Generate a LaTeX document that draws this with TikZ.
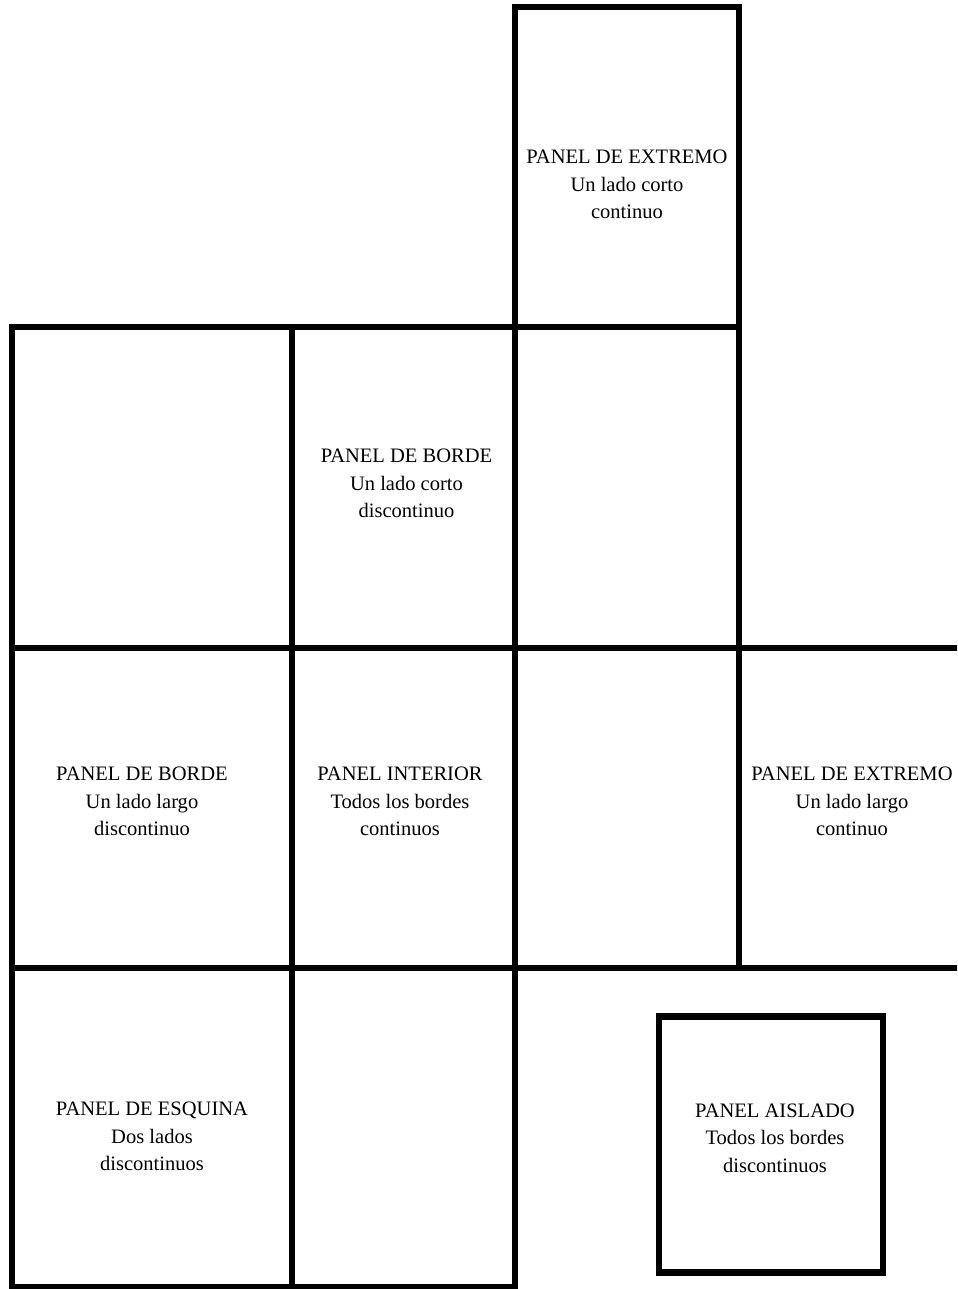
\documentclass[tikz,border=0pt]{standalone}
\usepackage{fontspec}
\setmainfont{Liberation Serif}
\begin{document}
\begin{tikzpicture}[x=0.75pt,y=-0.75pt,
  wall/.style={line width=4.6pt, line join=miter, line cap=rect},
  lbl/.style={align=center, inner sep=0pt, font=\fontsize{15.4pt}{20.6pt}\selectfont}]
\useasboundingbox (0,0) rectangle (957,1289);
\begin{scope}
\clip (0,0) rectangle (957,1289);
% top box
\draw[wall] (515,7) rectangle (739,327);
% horizontals
\draw[wall] (12,327) -- (739,327);
\draw[wall] (12,648) -- (965,648);
\draw[wall] (12,968) -- (965,968);
\draw[wall] (12,1287) -- (515,1287);
% verticals
\draw[wall] (12,327) -- (12,1287);
\draw[wall] (292,327) -- (292,1287);
\draw[wall] (515,7) -- (515,1287);
\draw[wall] (739,7) -- (739,968);
% isolated panel
\draw[wall] (659,1016.5) rectangle (883,1272.5);
\end{scope}
\node[lbl] (ext1) at (627,184.5) {PANEL DE EXTREMO\\Un lado corto\\continuo};
\node[lbl] (bor1) at (406.5,483.5) {PANEL DE BORDE\\Un lado corto\\discontinuo};
\node[lbl] (bor2) at (142,801.5) {PANEL DE BORDE\\Un lado largo\\discontinuo};
\node[lbl] (int) at (400,801.5) {PANEL INTERIOR\\Todos los bordes\\continuos};
\node[lbl] (ext2) at (852,801.5) {PANEL DE EXTREMO\\Un lado largo\\continuo};
\node[lbl] (esq) at (152,1136.5) {PANEL DE ESQUINA\\Dos lados\\discontinuos};
\node[lbl] (ais) at (775,1138) {PANEL AISLADO\\Todos los bordes\\discontinuos};
\end{tikzpicture}
\end{document}
